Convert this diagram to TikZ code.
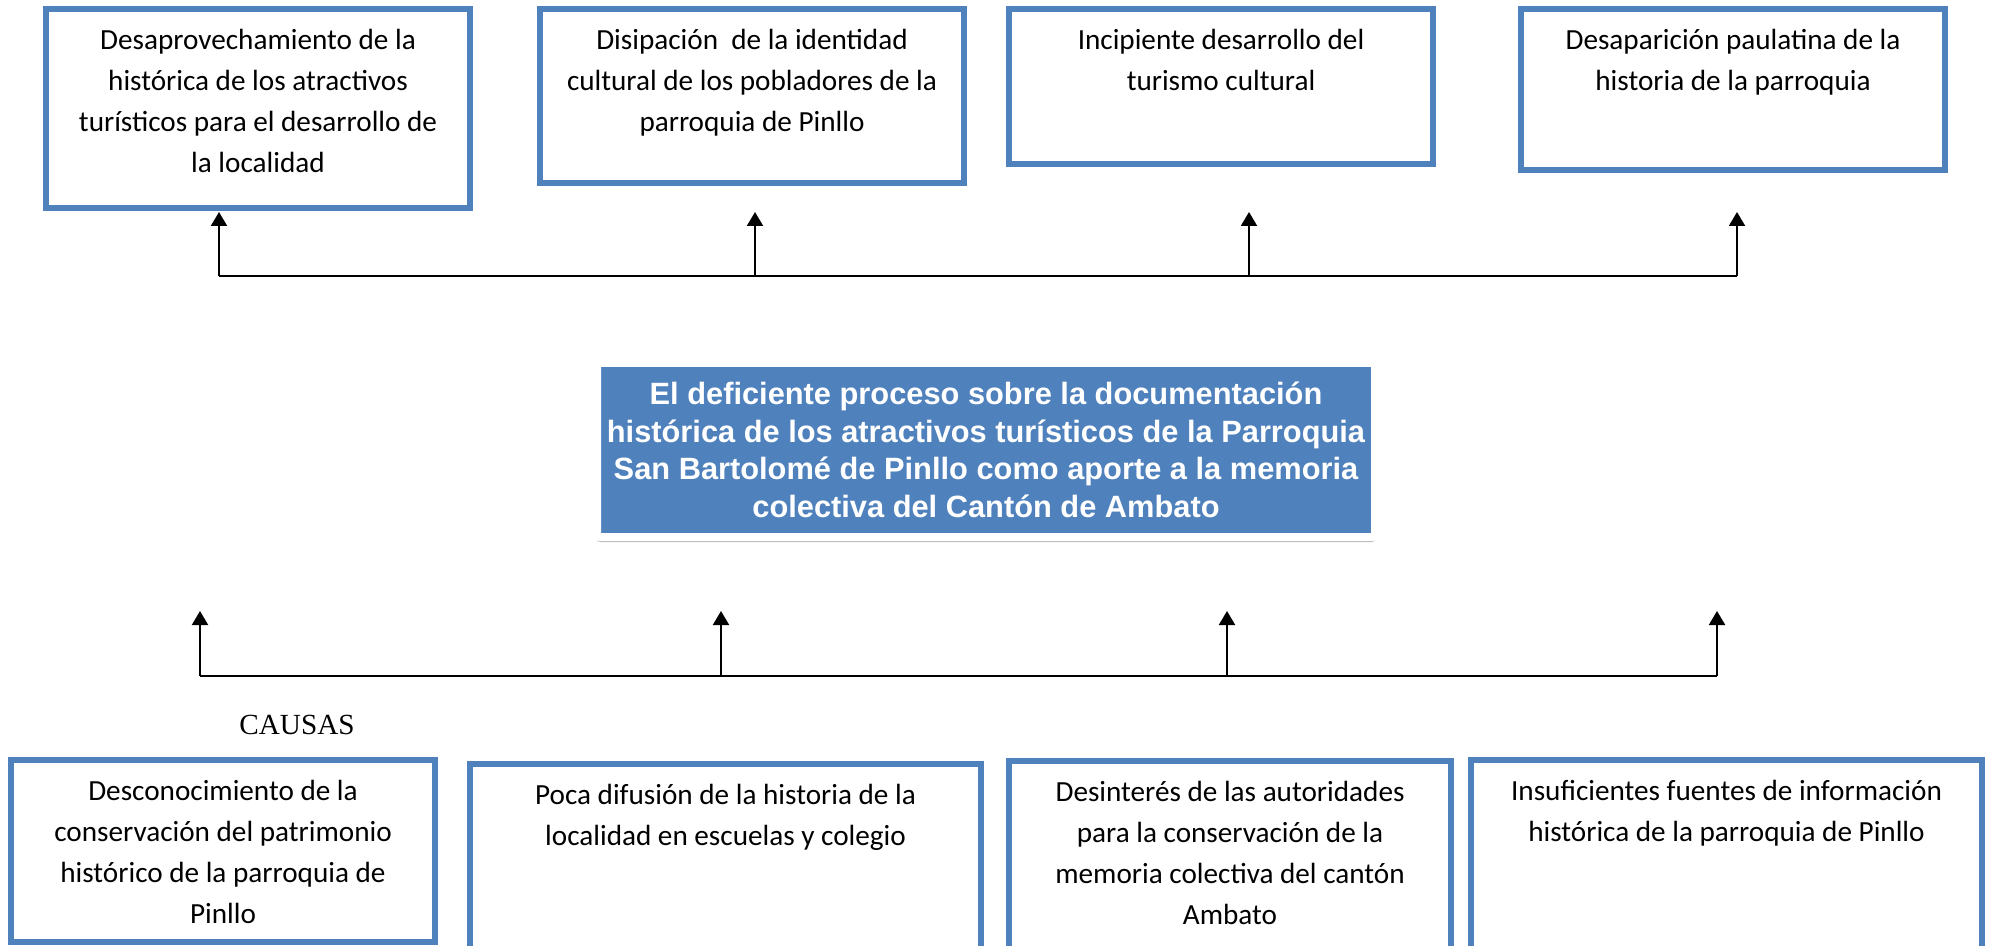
\documentclass[tikz,border=0pt]{standalone}
\usepackage{fontspec}
\setmainfont{Carlito}
\newfontfamily\titlefont{Liberation Sans}
\newfontfamily\causefont{Liberation Serif}
\usetikzlibrary{arrows.meta, shadows}
\definecolor{boxblue}{HTML}{4F81BD}

\begin{document}
\begin{tikzpicture}[x=0.5pt, y=-0.5pt,
          effbox/.style={rectangle, draw=boxblue, line width=3.25pt, inner sep=0pt},
          boxtext/.style={anchor=north, align=center, inner sep=0pt, yshift=-11.5pt, font=\fontsize{14.6}{20.5}\selectfont, execute at begin node={\rule{0pt}{12.5pt}}},
          probbox/.style={rectangle, fill=boxblue, draw=white, line width=4pt, rounded corners=1.5pt, inner xsep=1pt, minimum width=389pt, minimum height=87pt, align=center, text=white, font={\titlefont\bfseries\fontsize{15.4}{18.8}\selectfont}, drop shadow={shadow xshift=0pt, shadow yshift=-2.5pt, opacity=0.4, fill=black!70}},
          line/.style={line width=1pt, color=black},
          arrow/.style={-{Triangle[width=8pt, length=7pt]}, line width=1pt, color=black}]
        \path[use as bounding box, fill=white] (0,0) rectangle (1990,946);
        \clip (0,0) rectangle (1990,946);

        % efectos
        \node [effbox, minimum width=212pt, minimum height=99.5pt, label={[boxtext]north:{Desaprovechamiento de la\\histórica de los atractivos\\turísticos para el desarrollo de\\la localidad}}] (e1) at (258,108.5) {};
        \node [effbox, minimum width=212pt, minimum height=87pt, label={[boxtext]north:{Disipación\ \ de la identidad\\cultural de los pobladores de la\\parroquia de Pinllo}}] (e2) at (752,96) {};
        \node [effbox, minimum width=212pt, minimum height=77.5pt, label={[boxtext]north:{Incipiente desarrollo del\\turismo cultural}}] (e3) at (1221,86.5) {};
        \node [effbox, minimum width=212pt, minimum height=80.5pt, label={[boxtext]north:{Desaparición paulatina de la\\historia de la parroquia}}] (e4) at (1733,89.5) {};

        % problema
        \node [probbox] (p) at (986,450) {El deficiente proceso sobre la documentación\\histórica de los atractivos turísticos de la Parroquia\\San Bartolomé de Pinllo como aporte a la memoria\\colectiva del Cantón de Ambato};

        % causas
        \node [font={\causefont\fontsize{14.6}{17}\selectfont}, inner sep=0pt] (ctitle) at (297,725) {CAUSAS};
        \node [effbox, minimum width=212pt, minimum height=91pt, label={[boxtext]north:{Desconocimiento de la\\conservación del patrimonio\\histórico de la parroquia de\\Pinllo}}] (c1) at (223,851) {};
        \node [effbox, minimum width=255.5pt, minimum height=108pt, label={[boxtext]north:{Poca difusión de la historia de la\\localidad en escuelas y colegio}}] (c2) at (725.5,872) {};
        \node [effbox, minimum width=221pt, minimum height=109.5pt, label={[boxtext]north:{Desinterés de las autoridades\\para la conservación de la\\memoria colectiva del cantón\\Ambato}}] (c3) at (1230,870.5) {};
        \node [effbox, minimum width=255.5pt, minimum height=110pt, label={[boxtext]north:{Insuficientes fuentes de información\\histórica de la parroquia de Pinllo}}] (c4) at (1726.5,870) {};

        % flechas
        \foreach \x [count=\i] in {219,755,1249,1737} {
          \coordinate (eb\i) at (\x,276);
          \coordinate (et\i) at (\x,212);
          \draw [arrow] (eb\i) -- (et\i);
        }
        \draw [line] (eb1) -- (eb4);
        \foreach \x [count=\i] in {200,721,1227,1717} {
          \coordinate (cb\i) at (\x,676);
          \coordinate (ct\i) at (\x,611);
          \draw [arrow] (cb\i) -- (ct\i);
        }
        \draw [line] (cb1) -- (cb4);
      \end{tikzpicture}
\end{document}
